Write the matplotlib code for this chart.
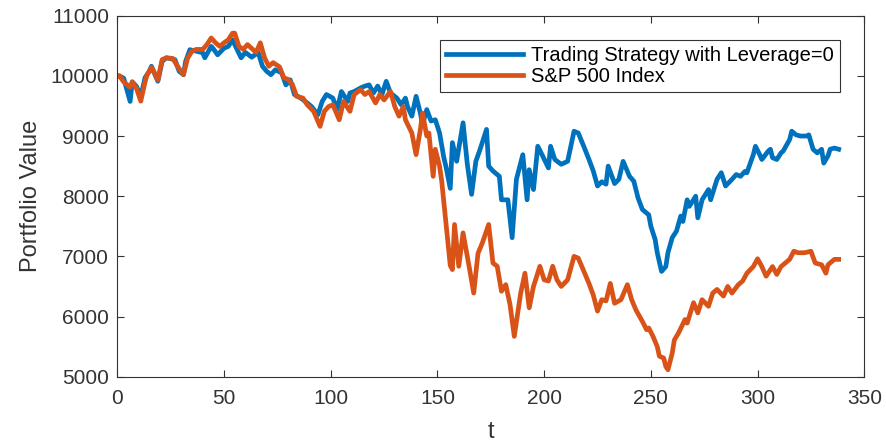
import matplotlib
matplotlib.use("Agg")
import matplotlib.pyplot as plt

# values (t, portfolio value)
t_strategy = [0, 1, 3, 6, 7, 9, 11, 13, 15, 16, 19, 21, 23, 27, 29, 31, 32, 34, 37, 40,
              41, 44, 45, 47, 50, 52, 54, 55, 58, 60, 63, 66, 68, 70, 72, 74, 77, 79, 81, 83,
              86, 89, 91, 94, 96, 98, 101, 103, 105, 108, 109, 111, 114, 116, 118, 120, 122, 124, 126, 128,
              131, 133, 135, 136, 138, 140, 142, 143, 145, 147, 149, 151, 153, 154, 156, 157, 159, 162, 164, 166,
              168, 170, 173, 174, 176, 179, 180, 183, 185, 187, 190, 192, 193, 195, 197, 199, 202, 203, 205, 208,
              211, 214, 216, 219, 221, 223, 225, 227, 229, 230, 233, 235, 237, 240, 242, 244, 246, 249, 250, 252,
              253, 255, 257, 258, 260, 262, 264, 265, 267, 268, 271, 272, 274, 277, 278, 281, 283, 285, 288, 290,
              292, 294, 295, 298, 299, 301, 302, 305, 306, 307, 309, 311, 312, 315, 316, 318, 320, 323, 324, 326,
              328, 330, 331, 333, 334, 336, 338]
v_strategy = [10000, 10000, 9960, 9575, 9900, 9825, 9660, 9970, 10075, 10160, 9910, 10240, 10300, 10270, 10075, 10020, 10240, 10435, 10410, 10385,
              10300, 10490, 10450, 10350, 10460, 10490, 10600, 10520, 10300, 10390, 10310, 10390, 10160, 10075, 10020, 10100, 10050, 9850, 9935, 9690,
              9630, 9550, 9490, 9355, 9575, 9690, 9630, 9440, 9740, 9575, 9715, 9740, 9800, 9830, 9850, 9715, 9830, 9690, 9910, 9715,
              9630, 9520, 9630, 9490, 9330, 9660, 9380, 9190, 9440, 9250, 9270, 9050, 8640, 8490, 8130, 8890, 8580, 9220, 8530, 8030,
              8580, 8780, 9110, 8500, 8420, 8330, 7940, 7940, 7310, 8280, 8690, 7940, 8440, 8110, 8830, 8690, 8470, 8830, 8610, 8530,
              8580, 9080, 9050, 8790, 8610, 8420, 8170, 8240, 8200, 8500, 8210, 8280, 8580, 8330, 8250, 7970, 7780, 7690, 7500, 7280,
              7060, 6750, 6830, 7060, 7310, 7420, 7670, 7580, 7940, 7830, 8000, 7640, 7940, 8110, 7940, 8280, 8390, 8170, 8280, 8360,
              8330, 8410, 8390, 8690, 8830, 8690, 8610, 8750, 8780, 8640, 8610, 8720, 8750, 8940, 9080, 9020, 9000, 9000, 9020, 8780,
              8720, 8780, 8550, 8670, 8780, 8800, 8780]

t_index = [0, 1, 3, 6, 7, 9, 11, 13, 14, 16, 17, 19, 21, 23, 26, 28, 31, 33, 35, 37,
           40, 42, 44, 46, 48, 50, 52, 54, 55, 57, 59, 61, 65, 67, 69, 71, 73, 76, 78, 80,
           82, 84, 87, 89, 92, 95, 97, 99, 101, 104, 106, 109, 111, 114, 116, 118, 121, 123, 125, 128,
           130, 132, 134, 135, 138, 140, 142, 143, 145, 146, 148, 149, 151, 152, 154, 156, 157, 158, 160, 162,
           165, 167, 169, 171, 174, 176, 178, 180, 182, 184, 186, 189, 191, 193, 195, 198, 200, 202, 204, 206,
           208, 211, 214, 216, 219, 221, 223, 225, 227, 229, 231, 233, 236, 239, 241, 243, 246, 248, 249, 251,
           253, 254, 256, 257, 258, 260, 261, 263, 266, 267, 270, 272, 274, 277, 279, 281, 284, 286, 288, 291,
           293, 295, 298, 300, 302, 304, 307, 309, 311, 315, 317, 319, 322, 325, 327, 330, 332, 333, 336, 338]
v_index = [10000, 10000, 9900, 9810, 9900, 9790, 9580, 9900, 10020, 10140, 10075, 9930, 10270, 10300, 10290, 10170, 10020, 10300, 10410, 10440,
           10440, 10520, 10630, 10550, 10490, 10550, 10600, 10710, 10710, 10490, 10440, 10520, 10390, 10550, 10300, 10160, 10220, 10150, 9970, 9940,
           9860, 9660, 9630, 9520, 9410, 9160, 9410, 9490, 9520, 9270, 9575, 9410, 9690, 9770, 9690, 9740, 9550, 9690, 9600, 9740,
           9490, 9330, 9490, 9270, 9050, 8690, 9110, 9380, 9000, 9050, 8330, 8780, 8500, 8250, 7550, 6850, 6780, 7530, 6835, 7390,
           6800, 6390, 7050, 7220, 7530, 6890, 6835, 6420, 6530, 6200, 5670, 6390, 6720, 6145, 6500, 6835, 6610, 6590, 6835, 6610,
           6500, 6610, 7000, 6970, 6720, 6550, 6360, 6090, 6280, 6260, 6550, 6220, 6280, 6530, 6280, 6110, 5920, 5780, 5810, 5670,
           5500, 5340, 5310, 5170, 5115, 5390, 5610, 5730, 5950, 5890, 6230, 6060, 6280, 6170, 6390, 6450, 6340, 6500, 6390, 6530,
           6590, 6720, 6830, 6960, 6830, 6670, 6830, 6700, 6830, 6950, 7085, 7060, 7060, 7085, 6890, 6860, 6720, 6860, 6950, 6950]

x_ticks = [0, 50, 100, 150, 200, 250, 300, 350]
y_ticks = [5000, 6000, 7000, 8000, 9000, 10000, 11000]

plt.rcParams['font.family'] = ['Liberation Sans', 'DejaVu Sans']

fig = plt.figure(figsize=(8.86, 4.46), dpi=100)
ax = fig.add_axes([0.1324, 0.1554, 0.9755 - 0.1324, 0.9648 - 0.1554])

ax.plot(t_strategy, v_strategy, color='#0072BD', linewidth=3.4,
        label='Trading Strategy with Leverage=0')
ax.plot(t_index, v_index, color='#D95319', linewidth=3.4, label='S&P 500 Index')

ax.set_xlim(0, 350)
ax.set_ylim(5000, 11000)
ax.set_xticks(x_ticks)
ax.set_yticks(y_ticks)
ax.tick_params(direction='in', top=True, right=True, length=5, width=0.8,
               labelsize=15, colors='#333333', pad=6)
ax.tick_params(axis='x', pad=9)
for s in ax.spines.values():
    s.set_color('#333333')
    s.set_linewidth(0.8)

ax.set_xlabel('t', fontsize=17, color='#333333', labelpad=9)
ax.set_ylabel('Portfolio Value', fontsize=17, color='#333333', labelpad=6)

leg = ax.legend(loc='upper right', bbox_to_anchor=(0.967, 0.934), fontsize=14.5,
                fancybox=False, framealpha=1, edgecolor='#333333',
                handlelength=3.8, handletextpad=0.4, borderpad=0.3,
                labelspacing=0.1, borderaxespad=0)
leg.get_frame().set_linewidth(0.8)

fig.savefig('out.png', dpi=100)
